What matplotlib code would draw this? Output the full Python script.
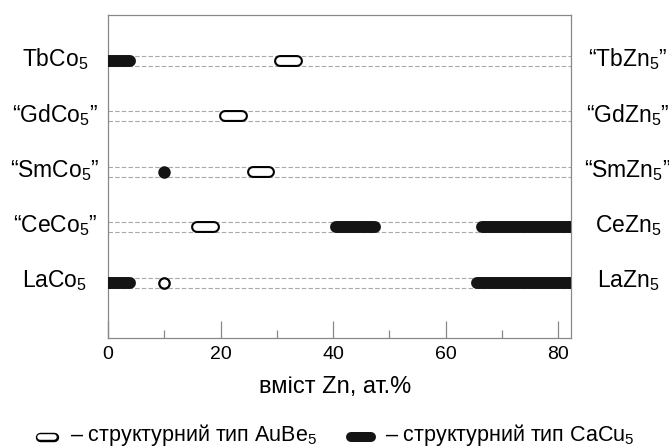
import numpy as np
import matplotlib
matplotlib.use('Agg')
import matplotlib.pyplot as plt
from matplotlib.lines import Line2D
from matplotlib.transforms import blended_transform_factory

plt.rcParams['font.family'] = ['Liberation Sans', 'DejaVu Sans']
plt.rcParams['mathtext.fontset'] = 'custom'
plt.rcParams['mathtext.rm'] = 'Liberation Sans'
plt.rcParams['mathtext.default'] = 'regular'

#* ----------------------------------------------------------------
#* Data (rows from bottom to top)
#* ----------------------------------------------------------------
rows = [1, 2, 3, 4, 5]
left_labels = ['LaCo$_5$', '\u201cCeCo$_5$\u201d', '\u201cSmCo$_5$\u201d', '\u201cGdCo$_5$\u201d', 'TbCo$_5$']
right_labels = ['LaZn$_5$', 'CeZn$_5$', '\u201cSmZn$_5$\u201d', '\u201cGdZn$_5$\u201d', '\u201cTbZn$_5$\u201d']

# AuBe5 type (open) ranges: row, start, end
aube_rows = [5, 4, 3, 2]
aube_start = [29.5, 19.7, 24.7, 14.8]
aube_end = [34.7, 24.8, 29.7, 19.9]

# CaCu5 type (filled) ranges
cacu_rows = [5, 2, 2, 1, 1]
cacu_start = [0, 39.5, 65.5, 0, 64.6]
cacu_end = [5.0, 48.5, 82.3, 5.0, 82.3]

# single compositions
dot_filled_row, dot_filled_x = [3], [10]
dot_open_row, dot_open_x = [1], [10]

xmax = 82.3
xticks = [0, 20, 40, 60, 80]

#* ----------------------------------------------------------------
#* Figure
#* ----------------------------------------------------------------
W, H, dpi = 669, 447, 100
fig = plt.figure(figsize=(W / dpi, H / dpi), dpi=dpi)
ax = fig.add_axes([108 / W, (H - 338) / H, 463 / W, 323 / H])
ax.set_xlim(0, xmax)
ax.set_ylim(0, 5.83)

for s in ax.spines.values():
    s.set_color('#888888')
    s.set_linewidth(0.9)

ax.set_xticks(xticks)
ax.set_xticks(np.arange(10, 81, 20), minor=True)
ax.tick_params(axis='x', direction='in', length=12, width=0.9, color='#888888',
               labelsize=14, pad=6)
ax.tick_params(axis='x', which='minor', direction='in', length=6, width=0.9, color='#888888')
ax.set_yticks([])
ax.set_xlabel('вміст Zn, ат.%', fontsize=17, x=0.49, labelpad=9)

# double dashed guide lines per row
for r in rows:
    for d in (-0.09, 0.09):
        ax.axhline(r + d, color='#a8a8a8', lw=0.8, ls=(0, (4, 2)), zorder=1)

# cap radius in data units for round caps
lw_bar = 8.6  # pt
px_per_unit = 463 / xmax
cap = (lw_bar / 2 * dpi / 72) / px_per_unit


def inset(a, b):
    # keep round caps inside the range, flat (clipped) at the axis edges
    a2 = a - cap if a <= 0 else a + cap
    b2 = b + cap if b >= xmax else b - cap
    return [a2, b2]


for r, a, b in zip(aube_rows, aube_start, aube_end):
    ax.plot(inset(a, b), [r, r], color='black', lw=lw_bar,
            solid_capstyle='round', zorder=3)
    ax.plot(inset(a, b), [r, r], color='white', lw=lw_bar - 3.0,
            solid_capstyle='round', zorder=4)

for r, a, b in zip(cacu_rows, cacu_start, cacu_end):
    ax.plot(inset(a, b), [r, r], color='#141414', lw=lw_bar,
            solid_capstyle='round', zorder=3)

ax.plot(dot_filled_x, dot_filled_row, 'o', color='#141414', ms=8, zorder=3)
ax.plot(dot_open_x, dot_open_row, 'o', mfc='white', mec='black', mew=1.6, ms=7.5, zorder=3)

# row labels on both sides
tr = blended_transform_factory(fig.transFigure, ax.transData)
for r, lab in zip(rows, left_labels):
    ax.text(55 / W, r + 0.03, lab, transform=tr, fontsize=16.5, ha='center', va='center', clip_on=False)
for r, lab in zip(rows, right_labels):
    ax.text(628 / W, r + 0.03, lab, transform=tr, fontsize=16.5, ha='center', va='center', clip_on=False)

#* ----------------------------------------------------------------
#* Legend at bottom (drawn in figure coords)
#* ----------------------------------------------------------------
ly = (H - 437) / H
fig.add_artist(Line2D([39.5 / W, 53.5 / W], [ly, ly], color='black', lw=6.8,
                      solid_capstyle='round', transform=fig.transFigure))
fig.add_artist(Line2D([39.5 / W, 53.5 / W], [ly, ly], color='white', lw=4.0,
                      solid_capstyle='round', transform=fig.transFigure))
fig.text(70 / W, ly + 2 / H, '\u2013 структурний тип AuBe$_5$', fontsize=15.5, va='center')
fig.add_artist(Line2D([351 / W, 371 / W], [ly, ly], color='#141414', lw=7.2,
                      solid_capstyle='round', transform=fig.transFigure))
fig.text(385 / W, ly + 2 / H, '\u2013 структурний тип CaCu$_5$', fontsize=15.5, va='center')

fig.savefig('out.png', dpi=dpi)
